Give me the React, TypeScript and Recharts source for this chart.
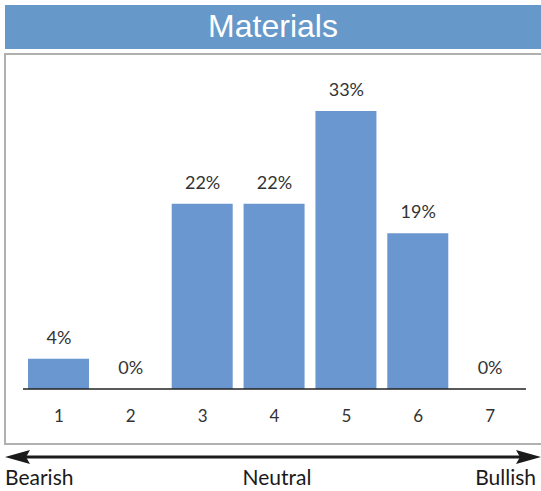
import { Bar, ComposedChart, Line, XAxis, YAxis, LabelList } from "recharts"

const categories = ["1", "2", "3", "4", "5", "6", "7"]
const shares = [3.6, 0, 22, 22, 33, 18.5, 0]
const scaleLabels = ["Bearish", "Neutral", "Bullish"]

const data = categories.map((name, i) => ({ name, value: shares[i] }))

const labelFont = "Lato, 'DejaVu Sans', sans-serif"

export default function App() {
  return (
    <div style={{ position: "absolute", left: 0, top: 0, width: 541, height: 491, background: "#fff" }}>
      {/* title bar */}
      <div
        style={{
          position: "absolute",
          left: 5,
          top: 5,
          width: 536,
          height: 44,
          background: "#6699c9",
          color: "#fff",
          fontFamily: "'Liberation Sans', Arial, sans-serif",
          fontSize: 32,
          lineHeight: "42px",
          textAlign: "center",
        }}
      >
        Materials
      </div>
      {/* chart frame */}
      <div
        style={{
          position: "absolute",
          left: 4,
          top: 53,
          width: 545,
          height: 388,
          border: "2px solid #b0b0b0",
        }}
      />
      <svg style={{ position: "absolute", left: 0, top: 0 }} width={541} height={491}>
        <line x1={20} y1={457} x2={526} y2={457} stroke="#1a1a1a" strokeWidth={3} />
        <polygon points="5,457 30,450 26,457 30,464" fill="#1a1a1a" />
        <polygon points="541,457 516,450 520,457 516,464" fill="#1a1a1a" />
        <text x={5} y={485} fontFamily={labelFont} fontSize={21} fill="#1a1a1a">
          {scaleLabels[0]}
        </text>
        <text x={277} y={485} textAnchor="middle" fontFamily={labelFont} fontSize={21} fill="#1a1a1a">
          {scaleLabels[1]}
        </text>
        <text x={536} y={485} textAnchor="end" fontFamily={labelFont} fontSize={21} fill="#1a1a1a">
          {scaleLabels[2]}
        </text>
      </svg>
      <div style={{ position: "absolute", left: 0, top: 0 }}>
        <ComposedChart
          width={541}
          height={491}
          data={data}
          margin={{ top: 52, right: 15, bottom: 72, left: 23 }}
        >
          <XAxis
            dataKey="name"
            height={30}
            tickLine={false}
            axisLine={{ stroke: "#222", strokeWidth: 1.5 }}
            tickMargin={15}
            tick={{ fill: "#333", fontSize: 17, fontFamily: labelFont }}
          />
          <YAxis hide domain={[0, 40]} />
          <Bar dataKey="value" fill="#6b97d0" barSize={61} isAnimationActive={false} />
          <Line
            dataKey="value"
            stroke="none"
            dot={false}
            activeDot={false}
            isAnimationActive={false}
          >
            <LabelList
              dataKey="value"
              position="top"
              offset={15}
              formatter={(v: number) => `${Math.round(v)}%`}
              style={{ fill: "#333", fontSize: 18, fontFamily: labelFont }}
            />
          </Line>
        </ComposedChart>
      </div>
    </div>
  )
}
